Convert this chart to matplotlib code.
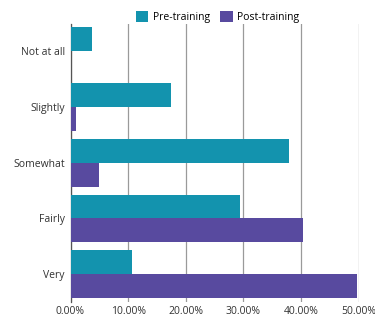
import matplotlib.pyplot as plt
import numpy as np
from matplotlib.ticker import FuncFormatter

categories = ["Not at all", "Slightly", "Somewhat", "Fairly", "Very"]
pre_training = [3.7, 17.4, 38.0, 29.5, 10.7]
post_training = [0.0, 1.0, 5.0, 40.4, 49.8]
x_ticks = [0, 10, 20, 30, 40, 50]

PRE_COLOR = "#1393ae"
POST_COLOR = "#584a9f"

plt.rcParams["font.family"] = ["Open Sans", "DejaVu Sans"]

fig = plt.figure(figsize=(3.75, 3.23), dpi=100)
ax = fig.add_axes([0.188, 0.065, 0.768, 0.862])

y = np.arange(len(categories))
h = 0.43
ax.barh(y - h / 2, pre_training, height=h, color=PRE_COLOR, label="Pre-training", zorder=3)
ax.barh(y + h / 2, post_training, height=h, color=POST_COLOR, label="Post-training", zorder=3)

ax.set_yticks(y)
ax.set_yticklabels(categories, fontsize=7.5, color="#333333")
ax.set_ylim(len(categories) - 0.5, -0.5)

ax.set_xlim(0, 50)
ax.set_xticks(x_ticks)
ax.xaxis.set_major_formatter(FuncFormatter(lambda v, _: f"{v:.2f}%"))
ax.tick_params(axis="x", labelsize=7.5, colors="#333333", length=0, pad=3)
ax.tick_params(axis="y", length=0, pad=4)

ax.grid(axis="x", color="#9a9a9a", linewidth=0.9, zorder=0)
for side in ["top", "right", "bottom"]:
    ax.spines[side].set_visible(False)
ax.spines["left"].set_color("#555555")
ax.spines["left"].set_linewidth(0.9)

fig.legend(loc="upper center", bbox_to_anchor=(0.58, 0.995), ncol=2, frameon=False,
           fontsize=7.5, handlelength=1.2, handleheight=1.3, handletextpad=0.4,
           columnspacing=1.0)

fig.savefig("out.png", dpi=100)
